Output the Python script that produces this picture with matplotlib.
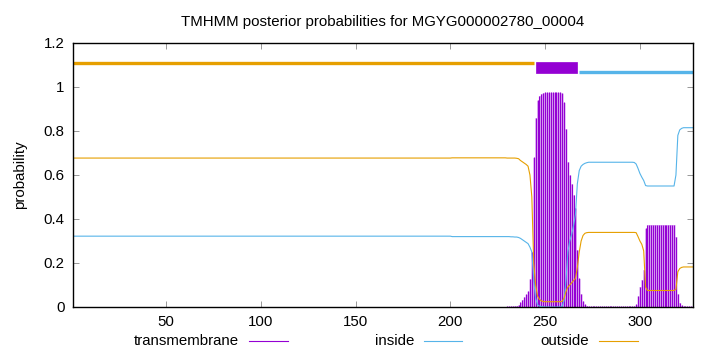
import numpy as np
import matplotlib
matplotlib.use('Agg')
import matplotlib.pyplot as plt
from matplotlib.lines import Line2D
from matplotlib.patches import Rectangle

plt.rcParams['font.family'] = ['Liberation Sans', 'DejaVu Sans']

# residue positions
positions = np.arange(1, 329)

# posterior probabilities per residue
inside = ([0.322] * 200 + [0.320] * 29
          + [0.320, 0.320, 0.319, 0.319, 0.318]
          + [0.318, 0.316, 0.312, 0.306, 0.300, 0.294, 0.288, 0.272, 0.250, 0.120,
             0.040, 0.010, 0.004, 0.002, 0.001, 0.000, 0.000, 0.000, 0.000, 0.000,
             0.000, 0.000, 0.000, 0.000, 0.002, 0.030, 0.120, 0.250, 0.300, 0.330,
             0.370, 0.420, 0.560, 0.620, 0.640, 0.648, 0.653, 0.656]
          + [0.658] * 24
          + [0.657, 0.650, 0.630, 0.607, 0.590, 0.575, 0.552]
          + [0.550] * 15
          + [0.600, 0.780, 0.805, 0.812]
          + [0.815] * 6)

outside = ([0.677] * 200 + [0.678] * 29
           + [0.677, 0.677, 0.677, 0.677, 0.677]
           + [0.676, 0.674, 0.666, 0.660, 0.654, 0.648, 0.640, 0.600, 0.500, 0.200,
              0.100, 0.050, 0.035, 0.028, 0.025, 0.024, 0.024, 0.024, 0.024, 0.024,
              0.024, 0.024, 0.024, 0.024, 0.026, 0.040, 0.070, 0.090, 0.100, 0.110,
              0.120, 0.130, 0.180, 0.250, 0.300, 0.325, 0.335, 0.338]
           + [0.339] * 24
           + [0.339, 0.338, 0.320, 0.300, 0.285, 0.255, 0.090]
           + [0.075] * 15
           + [0.080, 0.160, 0.175, 0.180]
           + [0.182] * 6)

transmembrane = ([0.0005] * 154 + [0.002] * 21 + [0.001] * 29 + [0.002] * 25
                 + [0.003, 0.003, 0.004, 0.004, 0.005]
                 + [0.006, 0.010, 0.022, 0.034, 0.046, 0.058, 0.072, 0.128, 0.250, 0.680,
                    0.860, 0.940, 0.961, 0.970, 0.974, 0.976, 0.976, 0.976, 0.976, 0.976,
                    0.976, 0.976, 0.976, 0.976, 0.972, 0.930, 0.810, 0.660, 0.600, 0.560,
                    0.510, 0.450, 0.260, 0.130, 0.060, 0.027, 0.012, 0.006]
                 + [0.003] * 24
                 + [0.004, 0.012, 0.050, 0.093, 0.125, 0.170, 0.358]
                 + [0.375] * 15
                 + [0.320, 0.060, 0.020, 0.008]
                 + [0.003] * 6)

# predicted topology shown as bars above the curves
outside_seg = (1, 244)
tm_seg = (245, 267)
inside_seg = (268, 328)

c_tm = '#9400D3'
c_in = '#56B4E9'
c_out = '#E69F00'
fs = 10.8

fig = plt.figure(figsize=(7.2, 3.52), dpi=100)
ax = fig.add_axes([73 / 720, 1 - 307 / 352, 620 / 720, 264 / 352])

# impulses: light wash between the 1px lines, like the antialiased original
ax.fill_between(positions, 0, transmembrane, step='mid', color='#d9a6f2', lw=0)
ax.vlines(positions, 0, transmembrane, color=c_tm, lw=0.8)
ax.plot(positions, inside, color=c_in, lw=0.8)
ax.plot(positions, outside, color=c_out, lw=0.8)

ax.plot(outside_seg, [1.107, 1.107], color=c_out, lw=2.4, solid_capstyle='butt')
ax.plot(inside_seg, [1.069, 1.069], color=c_in, lw=2.4, solid_capstyle='butt')
ax.add_patch(Rectangle((tm_seg[0], 1.063), tm_seg[1] - tm_seg[0], 0.05,
                       facecolor=c_tm, edgecolor=c_tm, lw=0.5))

ax.set_xlim(1, 328)
ax.set_ylim(0, 1.2)
ax.set_xticks([50, 100, 150, 200, 250, 300])
ax.set_yticks([0, 0.2, 0.4, 0.6, 0.8, 1.0, 1.2])
ax.set_yticklabels(['0', '0.2', '0.4', '0.6', '0.8', '1', '1.2'])
ax.tick_params(direction='in', length=4, width=0.6, top=True, right=True,
               labelsize=fs, pad=6, colors='#888888', labelcolor='black')
for s in ax.spines.values():
    s.set_linewidth(1.0)
    s.set_color('black')

ax.set_ylabel('probability', fontsize=fs, labelpad=12)
ax.set_title('TMHMM posterior probabilities for MGYG000002780_00004', fontsize=fs, pad=12)

# legend row along the bottom, gnuplot style
ly = 1 - 341 / 352
for label, color, tx, x0, x1 in [('transmembrane', c_tm, 239, 249, 288),
                                 ('inside', c_in, 414, 424, 462),
                                 ('outside', c_out, 589, 599, 638)]:
    fig.text(tx / 720, ly, label, ha='right', va='center', fontsize=fs)
    fig.add_artist(Line2D([x0 / 720, x1 / 720], [ly, ly], color=color, lw=0.8))

fig.savefig('out.png', dpi=100)
